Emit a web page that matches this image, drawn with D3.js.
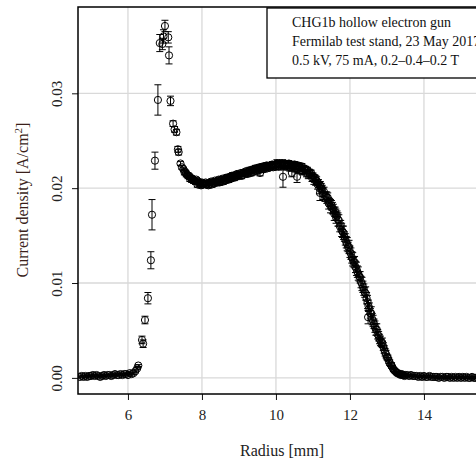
<!DOCTYPE html>
<html>
<head>
<meta charset="utf-8">
<script src="https://cdn.jsdelivr.net/npm/d3@7"></script>
<style>
  body { margin: 0; background: #fff; }
  svg { display: block; font-family: "Liberation Serif", "DejaVu Serif", serif; }
</style>
</head>
<body>
<div id="chart"></div>
<script>
// Baseline before the ring (inner radius)
const baseRadius = [4.70, 4.75, 4.80, 4.85, 4.90, 4.95, 5.00, 5.05, 5.10, 5.15, 5.20, 5.25, 5.30, 5.35, 5.40, 5.45,
  5.50, 5.55, 5.60, 5.65, 5.70, 5.75, 5.80, 5.85, 5.90, 5.95, 6.00, 6.05, 6.10, 6.15, 6.20, 6.25, 6.28];
const baseDensity = [0.0001, 0.0002, 0.0001, 0.0002, 0.0001, 0.0002, 0.0002, 0.0003, 0.0002, 0.0003, 0.0002, 0.0001,
  0.0002, 0.0003, 0.0002, 0.0003, 0.0003, 0.0002, 0.0003, 0.0004, 0.0003, 0.0003, 0.0004, 0.0003, 0.0004, 0.0004,
  0.0003, 0.0005, 0.0004, 0.0005, 0.0007, 0.0010, 0.0013];
const baseError = [0.0001, 0.0001, 0.0001, 0.0001, 0.0001, 0.0001, 0.0001, 0.0001, 0.0001, 0.0001, 0.0001, 0.0001,
  0.0001, 0.0001, 0.0001, 0.0001, 0.0001, 0.0001, 0.0001, 0.0001, 0.0001, 0.0001, 0.0001, 0.0001, 0.0001, 0.0001,
  0.0001, 0.0001, 0.0001, 0.0001, 0.0001, 0.0001, 0.0001];

// Sparse points on the sharp inner edge
const peakRadius = [6.38, 6.41, 6.46, 6.54, 6.62, 6.65, 6.73, 6.81, 6.86, 6.93, 6.96, 7.00, 7.09, 7.11, 7.15,
  7.22, 7.26, 7.31, 7.35, 7.37, 7.42, 7.46];
const peakDensity = [0.0040, 0.0036, 0.0061, 0.0084, 0.0124, 0.0172, 0.0229, 0.0293, 0.0353, 0.0352, 0.0360,
  0.0371, 0.0359, 0.0340, 0.0292, 0.0268, 0.0262, 0.0259, 0.0241, 0.0238, 0.0226, 0.0222];
const peakError = [0.0004, 0.0004, 0.0004, 0.0006, 0.0009, 0.0016, 0.0009, 0.0016, 0.0009, 0.0006, 0.0007,
  0.0006, 0.0006, 0.0009, 0.0005, 0.0003, 0.0003, 0.0003, 0.0003, 0.0003, 0.0002, 0.0002];

// Plateau of the hollow profile (first scan)
const plateauRadius = [7.50, 7.55, 7.60, 7.65, 7.70, 7.75, 7.80, 7.85, 7.90, 7.95, 8.00, 8.05, 8.10, 8.15, 8.20,
  8.25, 8.30, 8.35, 8.40, 8.45, 8.50, 8.55, 8.60, 8.65, 8.70, 8.75, 8.80, 8.85, 8.90, 8.95, 9.00, 9.05, 9.10,
  9.15, 9.20, 9.25, 9.30, 9.35, 9.40, 9.45, 9.50, 9.55, 9.60, 9.65, 9.70, 9.75, 9.80, 9.85, 9.90, 9.95, 10.00,
  10.05, 10.10, 10.15, 10.20, 10.25, 10.30, 10.35, 10.40, 10.45, 10.50, 10.55, 10.60, 10.65, 10.70, 10.75,
  10.80, 10.85, 10.90, 10.95, 11.00];
const plateauDensity = [0.0220, 0.0217, 0.0214, 0.0213, 0.0211, 0.0210, 0.0208, 0.0209, 0.0207, 0.0206, 0.0206,
  0.0205, 0.0206, 0.0205, 0.0206, 0.0207, 0.0206, 0.0208, 0.0207, 0.0209, 0.0208, 0.0210, 0.0209, 0.0211,
  0.0211, 0.0212, 0.0213, 0.0212, 0.0214, 0.0215, 0.0214, 0.0216, 0.0216, 0.0217, 0.0218, 0.0217, 0.0219,
  0.0219, 0.0220, 0.0221, 0.0220, 0.0222, 0.0222, 0.0223, 0.0222, 0.0224, 0.0223, 0.0224, 0.0225, 0.0224,
  0.0225, 0.0226, 0.0225, 0.0226, 0.0225, 0.0226, 0.0224, 0.0226, 0.0225, 0.0224, 0.0225, 0.0223, 0.0224,
  0.0222, 0.0223, 0.0221, 0.0220, 0.0219, 0.0217, 0.0216, 0.0213];
const plateauError = [0.0002, 0.0002, 0.0002, 0.0002, 0.0002, 0.0002, 0.0002, 0.0002, 0.0002, 0.0002, 0.0002,
  0.0002, 0.0002, 0.0002, 0.0002, 0.0002, 0.0002, 0.0002, 0.0002, 0.0002, 0.0002, 0.0002, 0.0002, 0.0002,
  0.0002, 0.0002, 0.0002, 0.0002, 0.0002, 0.0002, 0.0002, 0.0002, 0.0002, 0.0002, 0.0002, 0.0002, 0.0003,
  0.0003, 0.0003, 0.0003, 0.0003, 0.0003, 0.0003, 0.0003, 0.0003, 0.0003, 0.0003, 0.0003, 0.0003, 0.0003,
  0.0003, 0.0003, 0.0003, 0.0003, 0.0003, 0.0003, 0.0003, 0.0003, 0.0003, 0.0003, 0.0003, 0.0003, 0.0003,
  0.0003, 0.0003, 0.0003, 0.0003, 0.0003, 0.0003, 0.0003, 0.0003];

// Outer edge fall-off (first scan)
const edgeRadius = [11.05, 11.10, 11.15, 11.20, 11.25, 11.30, 11.35, 11.40, 11.45, 11.50, 11.55, 11.60, 11.65,
  11.70, 11.75, 11.80, 11.85, 11.90, 11.95, 12.00, 12.05, 12.10, 12.15, 12.20, 12.25, 12.30, 12.35, 12.40,
  12.45, 12.50, 12.55, 12.60, 12.65, 12.70, 12.75, 12.80, 12.85, 12.90, 12.95, 13.00, 13.05, 13.10, 13.15,
  13.20, 13.25, 13.30, 13.35, 13.40, 13.45, 13.50];
const edgeDensity = [0.0211, 0.0208, 0.0205, 0.0203, 0.0199, 0.0196, 0.0192, 0.0190, 0.0185, 0.0182, 0.0178,
  0.0175, 0.0171, 0.0166, 0.0161, 0.0154, 0.0149, 0.0143, 0.0138, 0.0133, 0.0127, 0.0122, 0.0117, 0.0112,
  0.0107, 0.0101, 0.0096, 0.0090, 0.0084, 0.0076, 0.0068, 0.0062, 0.0057, 0.0051, 0.0046, 0.0041, 0.0037,
  0.0033, 0.0027, 0.0022, 0.0018, 0.0014, 0.0011, 0.0008, 0.0006, 0.0005, 0.0004, 0.0004, 0.0003, 0.0003];
const edgeError = [0.0003, 0.0004, 0.0004, 0.0004, 0.0004, 0.0005, 0.0004, 0.0005, 0.0004, 0.0005, 0.0005,
  0.0005, 0.0005, 0.0006, 0.0005, 0.0006, 0.0005, 0.0006, 0.0005, 0.0006, 0.0006, 0.0005, 0.0006, 0.0006,
  0.0005, 0.0006, 0.0006, 0.0005, 0.0006, 0.0006, 0.0005, 0.0006, 0.0005, 0.0006, 0.0005, 0.0005, 0.0004,
  0.0004, 0.0004, 0.0003, 0.0003, 0.0002, 0.0002, 0.0002, 0.0001, 0.0001, 0.0001, 0.0001, 0.0001, 0.0001];

// Second scan, interleaved with the first over plateau and edge
const scan2Radius = [7.525, 7.575, 7.625, 7.675, 7.725, 7.775, 7.825, 7.875, 7.925, 7.975, 8.025, 8.075, 8.125,
  8.175, 8.225, 8.275, 8.325, 8.375, 8.425, 8.475, 8.525, 8.575, 8.625, 8.675, 8.725, 8.775, 8.825, 8.875,
  8.925, 8.975, 9.025, 9.075, 9.125, 9.175, 9.225, 9.275, 9.325, 9.375, 9.425, 9.475, 9.525, 9.575, 9.625,
  9.675, 9.725, 9.775, 9.825, 9.875, 9.925, 9.975, 10.025, 10.075, 10.125, 10.175, 10.225, 10.275, 10.325,
  10.375, 10.425, 10.475, 10.525, 10.575, 10.625, 10.675, 10.725, 10.775, 10.825, 10.875, 10.925, 10.975,
  11.025, 11.075, 11.125, 11.175, 11.225, 11.275, 11.325, 11.375, 11.425, 11.475, 11.525, 11.575, 11.625,
  11.675, 11.725, 11.775, 11.825, 11.875, 11.925, 11.975, 12.025, 12.075, 12.125, 12.175, 12.225, 12.275,
  12.325, 12.375, 12.425, 12.475, 12.525, 12.575, 12.625, 12.675, 12.725, 12.775, 12.825, 12.875, 12.925,
  12.975, 13.025, 13.075, 13.125, 13.175, 13.225, 13.275, 13.325, 13.375, 13.425, 13.475];
const scan2Density = [0.0217, 0.0215, 0.0213, 0.0210, 0.0209, 0.0208, 0.0207, 0.0204, 0.0205, 0.0203, 0.0204,
  0.0205, 0.0204, 0.0203, 0.0206, 0.0204, 0.0205, 0.0207, 0.0206, 0.0206, 0.0209, 0.0207, 0.0208, 0.0211,
  0.0209, 0.0210, 0.0213, 0.0211, 0.0212, 0.0214, 0.0213, 0.0213, 0.0216, 0.0215, 0.0215, 0.0218, 0.0216,
  0.0217, 0.0220, 0.0218, 0.0219, 0.0221, 0.0220, 0.0220, 0.0223, 0.0221, 0.0222, 0.0224, 0.0222, 0.0223,
  0.0226, 0.0223, 0.0224, 0.0226, 0.0224, 0.0223, 0.0225, 0.0222, 0.0222, 0.0224, 0.0221, 0.0220, 0.0222,
  0.0219, 0.0218, 0.0219, 0.0216, 0.0214, 0.0215, 0.0211, 0.0209, 0.0208, 0.0204, 0.0200, 0.0200, 0.0194,
  0.0191, 0.0190, 0.0184, 0.0181, 0.0179, 0.0173, 0.0169, 0.0167, 0.0160, 0.0156, 0.0153, 0.0146, 0.0141,
  0.0138, 0.0131, 0.0125, 0.0122, 0.0115, 0.0110, 0.0106, 0.0099, 0.0093, 0.0089, 0.0080, 0.0073, 0.0068,
  0.0060, 0.0054, 0.0051, 0.0044, 0.0039, 0.0037, 0.0030, 0.0025, 0.0021, 0.0016, 0.0013, 0.0009, 0.0007,
  0.0005, 0.0004, 0.0003, 0.0003, 0.0002];
const scan2Error = [0.0003, 0.0003, 0.0003, 0.0003, 0.0003, 0.0003, 0.0003, 0.0003, 0.0003, 0.0003, 0.0003,
  0.0003, 0.0003, 0.0003, 0.0003, 0.0003, 0.0003, 0.0003, 0.0003, 0.0003, 0.0003, 0.0003, 0.0003, 0.0003,
  0.0003, 0.0003, 0.0003, 0.0003, 0.0003, 0.0003, 0.0003, 0.0003, 0.0003, 0.0003, 0.0003, 0.0003, 0.0003,
  0.0003, 0.0003, 0.0003, 0.0003, 0.0003, 0.0003, 0.0003, 0.0003, 0.0003, 0.0003, 0.0003, 0.0003, 0.0003,
  0.0004, 0.0004, 0.0004, 0.0004, 0.0004, 0.0004, 0.0004, 0.0004, 0.0004, 0.0004, 0.0004, 0.0004, 0.0004,
  0.0004, 0.0004, 0.0004, 0.0004, 0.0004, 0.0004, 0.0004, 0.0005, 0.0005, 0.0005, 0.0006, 0.0005, 0.0006,
  0.0005, 0.0006, 0.0006, 0.0007, 0.0006, 0.0007, 0.0006, 0.0007, 0.0006, 0.0007, 0.0007, 0.0006, 0.0007,
  0.0007, 0.0006, 0.0007, 0.0006, 0.0007, 0.0007, 0.0006, 0.0007, 0.0006, 0.0007, 0.0007, 0.0006, 0.0007,
  0.0006, 0.0006, 0.0006, 0.0005, 0.0005, 0.0005, 0.0004, 0.0004, 0.0003, 0.0003, 0.0003, 0.0002, 0.0002,
  0.0001, 0.0001, 0.0001, 0.0001, 0.0001];

// Tail outside the ring
const tailRadius = [13.55, 13.60, 13.65, 13.70, 13.75, 13.80, 13.85, 13.90, 13.95, 14.00, 14.05, 14.10, 14.15,
  14.20, 14.25, 14.30, 14.35, 14.40, 14.45, 14.50, 14.55, 14.60, 14.65, 14.70, 14.75, 14.80, 14.85, 14.90,
  14.95, 15.00, 15.05, 15.10, 15.15, 15.20, 15.25, 15.30, 15.35, 15.40, 15.45];
const tailDensity = [0.0003, 0.0002, 0.0003, 0.0002, 0.0002, 0.0002, 0.0001, 0.0002, 0.0001, 0.0002, 0.0001,
  0.0001, 0.0002, 0.0001, 0.0001, 0.0001, 0.0001, 0.0000, 0.0001, 0.0001, 0.0000, 0.0001, 0.0001, 0.0000,
  0.0001, 0.0000, 0.0001, 0.0000, 0.0001, 0.0000, 0.0001, 0.0000, 0.0001, 0.0000, 0.0000, 0.0001, 0.0000,
  0.0000, 0.0000];

// Stray points with larger bars
const strayRadius = [9.57, 10.19, 10.43, 10.57, 11.19, 11.62, 12.49];
const strayDensity = [0.0216, 0.0212, 0.0216, 0.0212, 0.0195, 0.0172, 0.0064];
const strayError = [0.0003, 0.0011, 0.0004, 0.0006, 0.0008, 0.0006, 0.0007];

const xTicks = [6, 8, 10, 12, 14];
const yTicks = [0, 0.01, 0.02, 0.03];
const legendLines = ['CHG1b hollow electron gun', 'Fermilab test stand, 23 May 2017', '0.5 kV, 75 mA, 0.2\u20130.4\u20130.2 T'];

const zip = (rs, vs, es) => rs.map((r, i) => ({ r, v: vs[i], e: es ? es[i] : 0.0001 }));
const data = [].concat(
  zip(baseRadius, baseDensity, baseError),
  zip(plateauRadius, plateauDensity, plateauError),
  zip(edgeRadius, edgeDensity, edgeError),
  zip(scan2Radius, scan2Density, scan2Error),
  zip(tailRadius, tailDensity, null),
  zip(strayRadius, strayDensity, strayError),
  zip(peakRadius, peakDensity, peakError)
);

const width = 476;
const height = 459;
const plotLeft = 78, plotTop = 7, plotBottom = 394;

const svg = d3.select('#chart').append('svg')
  .attr('width', width)
  .attr('height', height);

const x = d3.scaleLinear().domain([4.65, 15.8]).range([plotLeft, plotLeft + 11.15 * 37]);
const y = d3.scaleLinear().domain([-0.0017, 0.0391]).range([plotBottom, plotTop]);
const plotRight = x.range()[1];

svg.append('defs').append('clipPath').attr('id', 'plot')
  .append('rect').attr('x', plotLeft).attr('y', plotTop)
  .attr('width', plotRight - plotLeft).attr('height', plotBottom - plotTop);

// grid
const grid = svg.append('g').attr('stroke', '#d9d9d9').attr('stroke-width', 1.3);
grid.selectAll('.gx').data(xTicks).join('line')
  .attr('x1', d => x(d)).attr('x2', d => x(d)).attr('y1', plotTop).attr('y2', plotBottom);
grid.selectAll('.gy').data(yTicks).join('line')
  .attr('x1', plotLeft).attr('x2', plotRight).attr('y1', d => y(d)).attr('y2', d => y(d));

// axes
const xAxis = svg.append('g')
  .attr('transform', `translate(0,${plotBottom})`)
  .call(d3.axisBottom(x).tickValues(xTicks).tickFormat(d3.format('d')).tickSize(6).tickPadding(9));
const yAxis = svg.append('g')
  .attr('transform', `translate(${plotLeft},0)`)
  .call(d3.axisLeft(y).tickValues(yTicks).tickFormat(d3.format('.2f')).tickSize(6).tickPadding(0));
[xAxis, yAxis].forEach(g => {
  g.attr('font-family', null);
  g.select('.domain').remove();
  g.selectAll('line').attr('stroke', '#111').attr('stroke-width', 1);
  g.selectAll('text').attr('font-size', 15).attr('fill', '#222');
});
yAxis.selectAll('text')
  .attr('x', null).attr('dy', null)
  .attr('text-anchor', 'middle')
  .attr('transform', 'translate(-16,0) rotate(-90)');

// markers
const marks = svg.append('g').attr('clip-path', 'url(#plot)')
  .attr('stroke', '#000').attr('fill', 'none').attr('stroke-width', 1);
const pts = marks.selectAll('g.pt').data(data).join('g').attr('class', 'pt');
pts.append('line')
  .attr('x1', d => x(d.r)).attr('x2', d => x(d.r))
  .attr('y1', d => y(d.v - d.e)).attr('y2', d => y(d.v + d.e));
pts.append('line')
  .attr('x1', d => x(d.r) - 3.5).attr('x2', d => x(d.r) + 3.5)
  .attr('y1', d => y(d.v + d.e)).attr('y2', d => y(d.v + d.e));
pts.append('line')
  .attr('x1', d => x(d.r) - 3.5).attr('x2', d => x(d.r) + 3.5)
  .attr('y1', d => y(d.v - d.e)).attr('y2', d => y(d.v - d.e));
pts.append('circle')
  .attr('cx', d => x(d.r)).attr('cy', d => y(d.v)).attr('r', 3.6);

// frame
svg.append('rect')
  .attr('x', plotLeft).attr('y', plotTop)
  .attr('width', plotRight - plotLeft).attr('height', plotBottom - plotTop)
  .attr('fill', 'none').attr('stroke', '#000').attr('stroke-width', 1.5);

// legend box
const legend = svg.append('g').attr('transform', 'translate(267,8)');
legend.append('rect')
  .attr('width', 260).attr('height', 70)
  .attr('fill', '#fff').attr('stroke', '#000').attr('stroke-width', 1.3);
legend.selectAll('text').data(legendLines).join('text')
  .attr('x', 25).attr('y', (d, i) => 19 + i * 19)
  .attr('font-size', 14).attr('fill', '#111')
  .text(d => d);

// axis titles
svg.append('text')
  .attr('x', 282).attr('y', 456)
  .attr('text-anchor', 'middle').attr('font-size', 16).attr('fill', '#222')
  .text('Radius [mm]');
const yTitle = svg.append('text')
  .attr('transform', 'translate(28,200) rotate(-90)')
  .attr('text-anchor', 'middle').attr('font-size', 16).attr('fill', '#3a1f1a');
yTitle.append('tspan').text('Current density [A/cm');
yTitle.append('tspan').attr('font-size', 11).attr('dy', -6).text('2');
yTitle.append('tspan').attr('dy', 6).text(']');
</script>
</body>
</html>
